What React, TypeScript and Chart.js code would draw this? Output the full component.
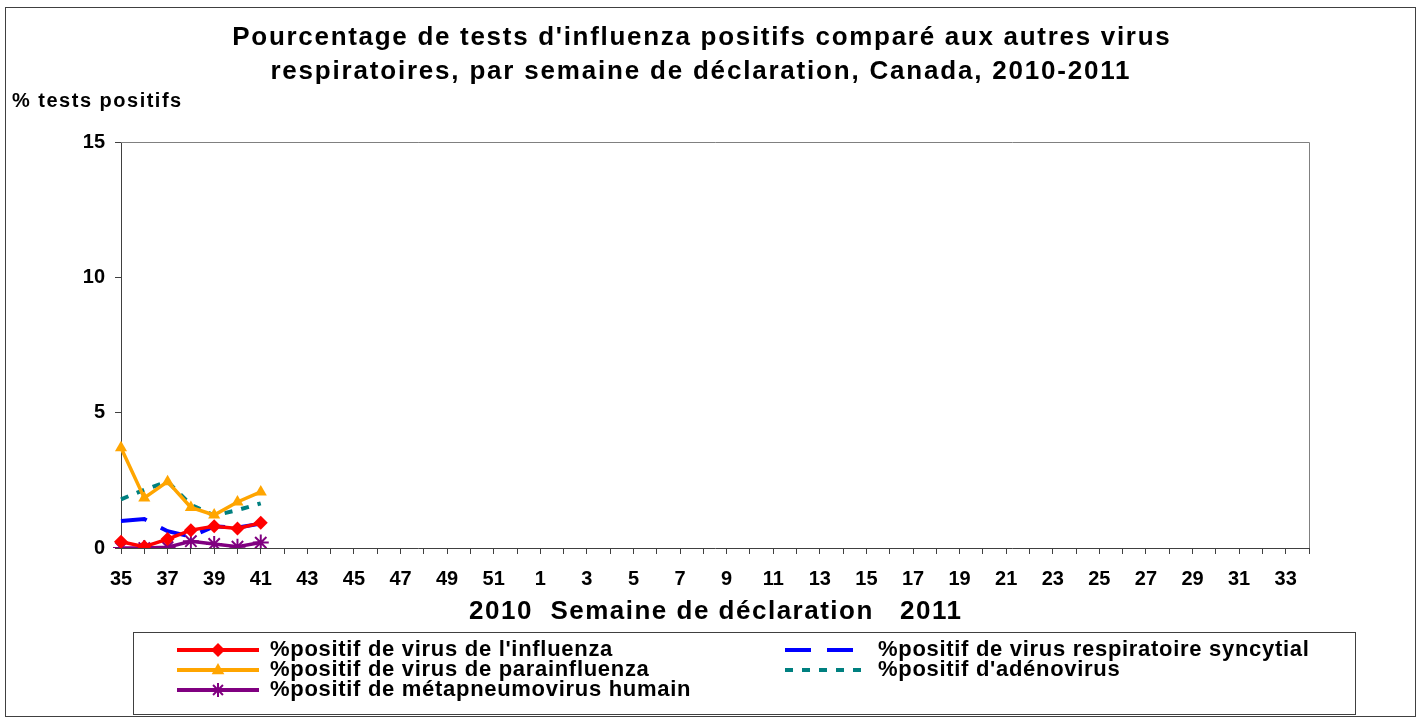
import React, { useEffect, useRef } from "react";
import { Chart, registerables } from "chart.js";

Chart.register(...registerables);

const weeks: string[] = [
  "35", "36", "37", "38", "39", "40", "41", "42", "43", "44", "45", "46", "47", "48", "49", "50", "51", "52",
  "1", "2", "3", "4", "5", "6", "7", "8", "9", "10", "11", "12", "13", "14", "15", "16", "17",
  "18", "19", "20", "21", "22", "23", "24", "25", "26", "27", "28", "29", "30", "31", "32", "33", "34",
];

const influenza: number[] = [0.23, 0.05, 0.33, 0.66, 0.8, 0.72, 0.93];
const rsv: number[] = [1.0, 1.07, 0.62, 0.42, 0.8, 0.75, 0.9];
const parainfluenza: number[] = [3.7, 1.85, 2.45, 1.5, 1.22, 1.7, 2.07];
const adenovirus: number[] = [1.8, 2.15, 2.45, 1.6, 1.2, 1.4, 1.65];
const hmpv: number[] = [0.0, 0.0, 0.03, 0.25, 0.15, 0.05, 0.2];

const yTicks: number[] = [0, 5, 10, 15];

const titleLines: string[] = [
  "Pourcentage de tests d'influenza positifs comparé aux autres virus",
  "respiratoires, par semaine de déclaration, Canada, 2010-2011",
];
const yTitle = "% tests positifs";
const xTitle = "2010  Semaine de déclaration   2011";

const FONT = "'Liberation Sans', Arial, sans-serif";

const pad = (arr: number[]) => weeks.map((_, i) => (i < arr.length ? arr[i] : null));

type LegendItem = { label: string; color: string; dash: number[]; marker: string };

const legendLeft: LegendItem[] = [
  { label: "%positif de virus de l'influenza", color: "#FF0000", dash: [], marker: "diamond" },
  { label: "%positif de virus de parainfluenza", color: "#FFA500", dash: [], marker: "triangle" },
  { label: "%positif de métapneumovirus humain", color: "#800080", dash: [], marker: "star" },
];
const legendRight: LegendItem[] = [
  { label: "%positif de virus respiratoire syncytial", color: "#0000FF", dash: [26, 16], marker: "none" },
  { label: "%positif d'adénovirus", color: "#008080", dash: [8, 9], marker: "none" },
];

function drawMarker(ctx: CanvasRenderingContext2D, kind: string, x: number, y: number, color: string) {
  const r = 7;
  ctx.save();
  ctx.fillStyle = color;
  ctx.strokeStyle = color;
  ctx.setLineDash([]);
  if (kind === "diamond") {
    ctx.beginPath();
    ctx.moveTo(x, y - r);
    ctx.lineTo(x + r, y);
    ctx.lineTo(x, y + r);
    ctx.lineTo(x - r, y);
    ctx.closePath();
    ctx.fill();
  } else if (kind === "triangle") {
    ctx.beginPath();
    ctx.moveTo(x, y - r);
    ctx.lineTo(x + r * 0.9, y + r * 0.6);
    ctx.lineTo(x - r * 0.9, y + r * 0.6);
    ctx.closePath();
    ctx.fill();
  } else if (kind === "star") {
    ctx.lineWidth = 2;
    ctx.beginPath();
    for (let k = 0; k < 4; k++) {
      const a = (k * Math.PI) / 4;
      ctx.moveTo(x - r * Math.cos(a), y - r * Math.sin(a));
      ctx.lineTo(x + r * Math.cos(a), y + r * Math.sin(a));
    }
    ctx.stroke();
  }
  ctx.restore();
}

function spacedText(ctx: CanvasRenderingContext2D, text: string, x: number, y: number, spacing: number, align: string) {
  (ctx as any).letterSpacing = `${spacing}px`;
  const w = ctx.measureText(text).width - spacing;
  let startX = x;
  if (align === "center") startX = x - w / 2;
  ctx.textAlign = "left";
  ctx.fillText(text, startX, y);
  (ctx as any).letterSpacing = "0px";
}

const decorPlugin = {
  id: "decor",
  afterDraw(chart: any) {
    const ctx: CanvasRenderingContext2D = chart.ctx;
    const ca = chart.chartArea;
    ctx.save();
    // plot area top/right border
    ctx.strokeStyle = "#808080";
    ctx.lineWidth = 1;
    ctx.beginPath();
    ctx.moveTo(ca.left, ca.top + 0.5);
    ctx.lineTo(ca.right + 0.5, ca.top + 0.5);
    ctx.lineTo(ca.right + 0.5, ca.bottom);
    ctx.stroke();

    // outer border
    ctx.strokeStyle = "#404040";
    ctx.strokeRect(5.5, 7.5, 1410, 709);

    // title
    ctx.fillStyle = "#000";
    ctx.textBaseline = "middle";
    ctx.font = `bold 26px ${FONT}`;
    spacedText(ctx, titleLines[0], 701, 38, 1.7, "center");
    spacedText(ctx, titleLines[1], 700, 72, 1.8, "center");

    // y title
    ctx.font = `bold 20px ${FONT}`;
    spacedText(ctx, yTitle, 12, 101, 1.5, "left");

    // x title
    ctx.font = `bold 26px ${FONT}`;
    spacedText(ctx, xTitle, 715, 612, 1.5, "center");

    // legend box
    ctx.strokeStyle = "#404040";
    ctx.lineWidth = 1;
    ctx.strokeRect(133.5, 632.5, 1222, 82);

    const rows = [650, 670, 690];
    ctx.font = `bold 22px ${FONT}`;
    const drawCol = (items: LegendItem[], x0: number, x1: number, tx: number) => {
      items.forEach((it, i) => {
        const y = rows[i];
        ctx.save();
        ctx.strokeStyle = it.color;
        ctx.lineWidth = 4;
        ctx.setLineDash(it.dash);
        ctx.beginPath();
        ctx.moveTo(x0, y);
        ctx.lineTo(x1, y);
        ctx.stroke();
        ctx.restore();
        if (it.marker !== "none") drawMarker(ctx, it.marker, (x0 + x1) / 2, y, it.color);
        ctx.fillStyle = "#000";
        spacedText(ctx, it.label, tx, y, 0.7, "left");
      });
    };
    drawCol(legendLeft, 177, 259, 270);
    drawCol(legendRight, 785, 865, 878);
    ctx.restore();
  },
};

export default function App() {
  const ref = useRef<HTMLCanvasElement | null>(null);

  useEffect(() => {
    document.body.style.margin = "0";
    const canvas = ref.current;
    if (!canvas) return;
    const chart = new Chart(canvas, {
      type: "line",
      data: {
        labels: weeks,
        datasets: [
          {
            label: legendLeft[0].label,
            data: pad(influenza),
            borderColor: "#FF0000",
            backgroundColor: "#FF0000",
            borderWidth: 3.5,
            pointStyle: "rectRot",
            pointRadius: 7,
            pointBorderWidth: 0,
            tension: 0,
          },
          {
            label: legendRight[0].label,
            data: pad(rsv),
            borderColor: "#0000FF",
            backgroundColor: "#0000FF",
            borderWidth: 4,
            borderDash: [26, 16],
            pointRadius: 0,
            tension: 0,
          },
          {
            label: legendLeft[1].label,
            data: pad(parainfluenza),
            borderColor: "#FFA500",
            backgroundColor: "#FFA500",
            borderWidth: 3.5,
            pointStyle: "triangle",
            pointRadius: 7,
            pointBorderWidth: 0,
            tension: 0,
          },
          {
            label: legendRight[1].label,
            data: pad(adenovirus),
            borderColor: "#008080",
            backgroundColor: "#008080",
            borderWidth: 4,
            borderDash: [8, 9],
            pointRadius: 0,
            tension: 0,
          },
          {
            label: legendLeft[2].label,
            data: pad(hmpv),
            borderColor: "#800080",
            backgroundColor: "#800080",
            borderWidth: 3.5,
            pointStyle: "star",
            pointRadius: 8,
            pointBorderWidth: 2,
            tension: 0,
          },
        ],
      },
      options: {
        animation: false,
        responsive: true,
        maintainAspectRatio: false,
        layout: { padding: { top: 142, right: 114, left: 0, bottom: 0 } },
        plugins: {
          legend: { display: false },
          title: { display: false },
          tooltip: { enabled: false },
        },
        spanGaps: false,
        scales: {
          x: {
            type: "category",
            offset: false,
            afterFit: (s: any) => {
              s.height = 176;
            },
            grid: {
              display: true,
              drawOnChartArea: false,
              drawTicks: true,
              tickLength: 6,
              color: "#404040",
            },
            border: { display: true, color: "#404040", width: 1 },
            ticks: {
              autoSkip: false,
              maxRotation: 0,
              minRotation: 0,
              padding: 13,
              color: "#000",
              font: { family: FONT, size: 20, weight: "bold" },
              callback: (_v: any, i: number) => (i % 2 === 0 ? weeks[i] : ""),
            },
          },
          y: {
            min: 0,
            max: 15,
            afterFit: (s: any) => {
              s.width = 121;
            },
            afterBuildTicks: (s: any) => {
              s.ticks = yTicks.map((v) => ({ value: v }));
            },
            grid: {
              display: true,
              drawOnChartArea: false,
              drawTicks: true,
              tickLength: 6,
              color: "#404040",
            },
            border: { display: true, color: "#404040", width: 1 },
            ticks: {
              padding: 10,
              color: "#000",
              font: { family: FONT, size: 20, weight: "bold" },
            },
          },
        },
      },
      plugins: [decorPlugin],
    } as any);
    return () => chart.destroy();
  }, []);

  return (
    <div style={{ width: 1423, height: 724, position: "relative", background: "#fff" }}>
      <canvas ref={ref} />
    </div>
  );
}
